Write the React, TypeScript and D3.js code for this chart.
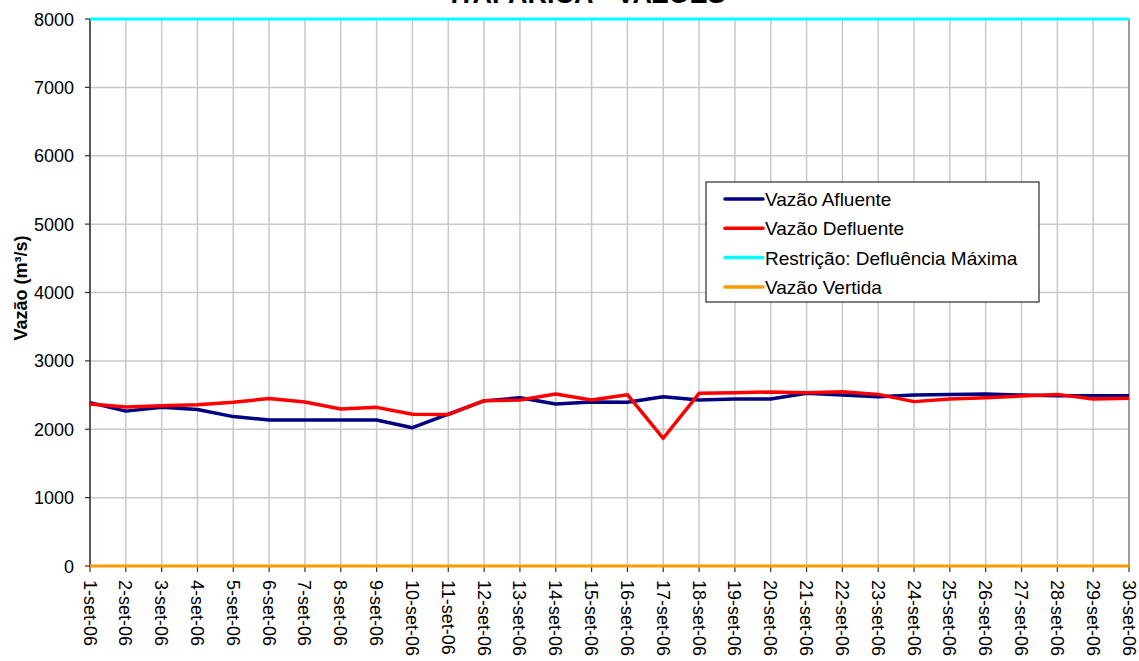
import React from 'react';
import * as d3 from 'd3';

const days = d3.range(1, 31).map(d => `${d}-set-06`);
const afluente = [2390, 2265, 2320, 2290, 2185, 2135, 2135, 2135, 2135, 2023, 2220, 2415, 2460, 2370, 2400, 2394, 2476, 2428, 2442, 2442, 2525, 2500, 2476, 2500, 2510, 2515, 2500, 2490, 2490, 2490];
const defluente = [2370, 2325, 2345, 2360, 2394, 2450, 2398, 2296, 2320, 2220, 2215, 2418, 2428, 2515, 2428, 2506, 1868, 2525, 2535, 2545, 2535, 2550, 2510, 2404, 2442, 2462, 2486, 2510, 2442, 2452];
const restricao = days.map(() => 8000);
const vertida = days.map(() => 0);
const yTicks = [0, 1000, 2000, 3000, 4000, 5000, 6000, 7000, 8000];

const series = [
  { name: 'Vazão Afluente', color: '#000080', values: afluente, w: 3.5 },
  { name: 'Vazão Defluente', color: '#ff0000', values: defluente, w: 3.5 },
  { name: 'Restrição: Defluência Máxima', color: '#00ffff', values: restricao, w: 3 },
  { name: 'Vazão Vertida', color: '#ff9900', values: vertida, w: 3 },
];

const W = 1139, H = 661;
const left = 90, right = 1129, top = 19, bottom = 566;

export default function App() {
  const x = d3.scalePoint<string>().domain(days).range([left, right]);
  const y = d3.scaleLinear().domain([0, 8000]).range([bottom, top]);
  const line = d3.line<number>().x((_, i) => x(days[i])!).y(d => y(d));
  const font = '"Liberation Sans", Arial, sans-serif';

  return (
    <svg width={W} height={H} style={{ position: 'absolute', left: 0, top: 0, fontFamily: font }}>
      <rect width={W} height={H} fill="#fff" />
      <text x={588} y={3} textAnchor="middle" fontSize={27} fontWeight="bold">ITAPARICA - VAZÕES</text>
      {/* grid */}
      {yTicks.map(t => (
        <line key={'gy' + t} x1={left} x2={right} y1={y(t)} y2={y(t)} stroke="#c8c8c8" strokeWidth={1.5} />
      ))}
      {days.map(d => (
        <line key={'gx' + d} x1={x(d)} x2={x(d)} y1={top} y2={bottom} stroke="#c8c8c8" strokeWidth={1.5} />
      ))}
      <line x1={right} x2={right} y1={top} y2={bottom} stroke="#a08080" strokeWidth={1.5} />
      {/* axes */}
      <line x1={left} x2={left} y1={top} y2={bottom + 1} stroke="#3a2a2a" strokeWidth={1.5} />
      {yTicks.map(t => (
        <g key={'ty' + t}>
          <line x1={left - 5} x2={left} y1={y(t)} y2={y(t)} stroke="#3a2a2a" strokeWidth={1.2} />
          <text x={74} y={y(t) + 6.5} textAnchor="end" fontSize={18}>{t}</text>
        </g>
      ))}
      {days.map(d => (
        <g key={'tx' + d}>
          <line x1={x(d)} x2={x(d)} y1={bottom} y2={bottom + 6} stroke="#3a2a2a" strokeWidth={1.2} />
          <text transform={`translate(${x(d)! - 6.5},${bottom + 14}) rotate(90)`} fontSize={18}>{d}</text>
        </g>
      ))}
      <text transform={`translate(27,288) rotate(-90)`} textAnchor="middle" fontSize={18} fontWeight="bold">Vazão (m³/s)</text>
      {/* series */}
      {series.map(s => (
        <path key={s.name} d={line(s.values)!} fill="none" stroke={s.color} strokeWidth={s.w} strokeLinejoin="round" />
      ))}
      {/* legend */}
      <rect x={706} y={182} width={333} height={120} fill="#fff" stroke="#000" strokeWidth={1} />
      {series.map((s, i) => (
        <g key={'lg' + s.name} transform={`translate(725,${199 + i * 29.3})`}>
          <line x1={0} x2={38} y1={0} y2={0} stroke={s.color} strokeWidth={3.5} strokeLinecap="round" />
          <text x={40} y={7} fontSize={19}>{s.name}</text>
        </g>
      ))}
    </svg>
  );
}
